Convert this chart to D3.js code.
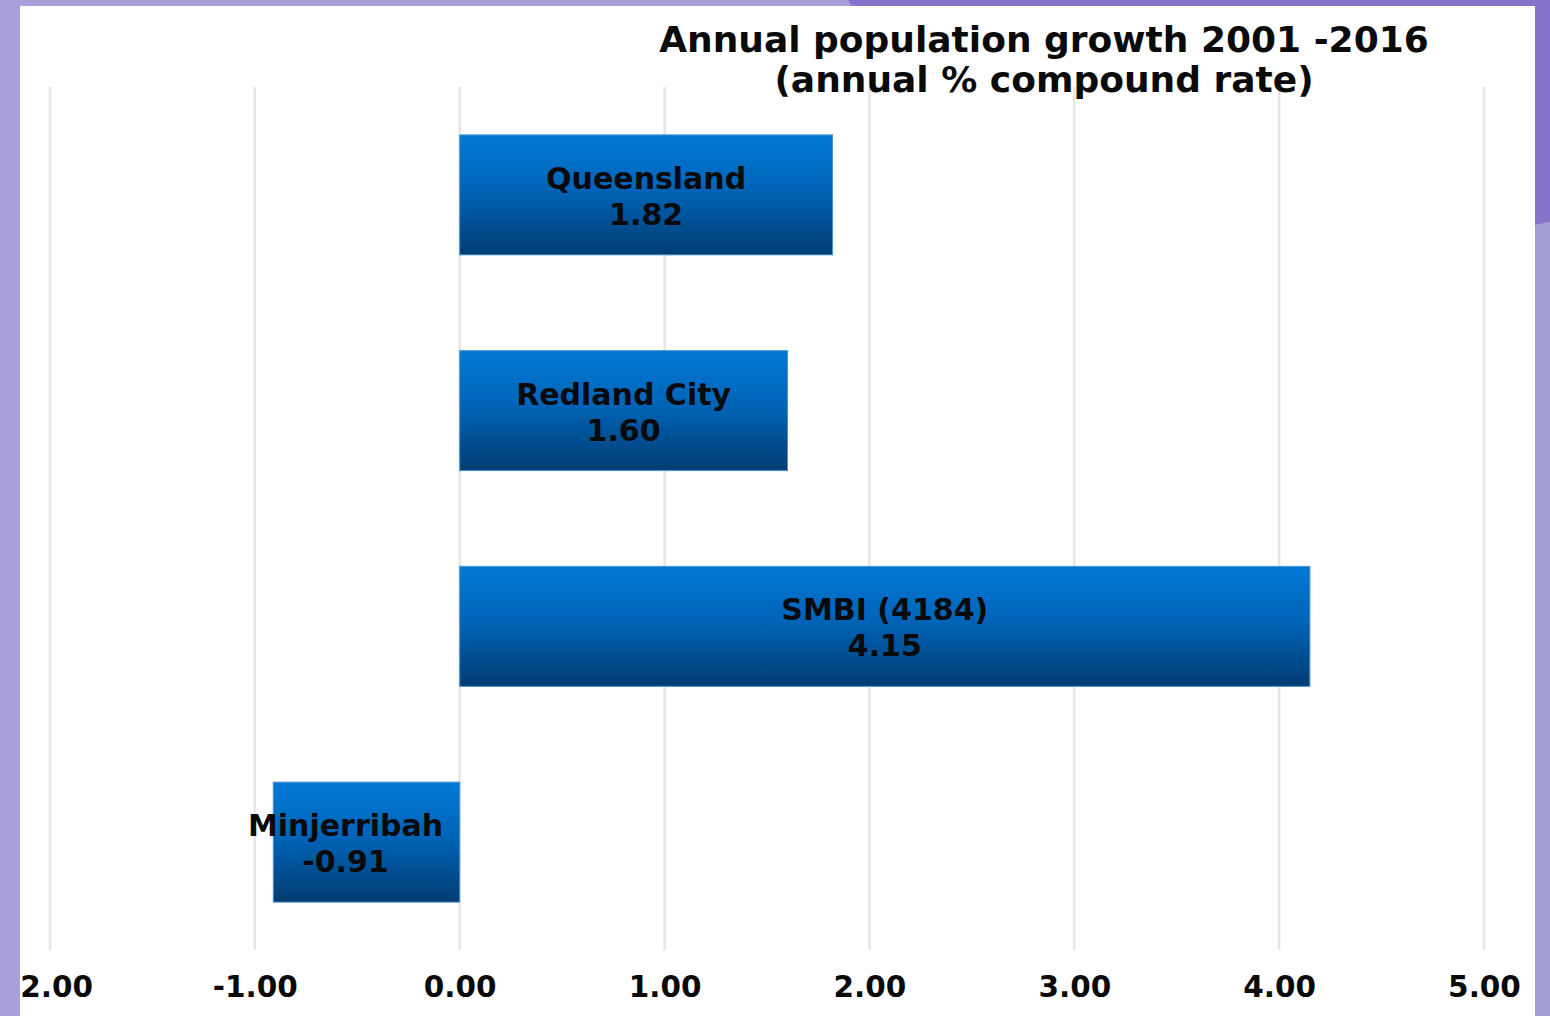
<!DOCTYPE html>
<html>
<head>
<meta charset="utf-8">
<script src="https://cdn.jsdelivr.net/npm/d3@7"></script>
<style>
  html, body { margin: 0; padding: 0; background: #a99fd8; }
  svg { display: block; }
</style>
</head>
<body>
<svg id="chart" width="1550" height="1016"></svg>
<script>
// Annual population growth, 2001-2016 (annual % compound rate)
const regions = ["Queensland", "Redland City", "SMBI (4184)", "Minjerribah"];
const growthRates = [1.82, 1.60, 4.15, -0.91];
const xTicks = [-2, -1, 0, 1, 2, 3, 4, 5];
const titleLines = ["Annual population growth 2001 -2016", "(annual % compound rate)"];

const W = 1550, H = 1016;
const panel = { left: 20, top: 6, right: 1535, bottom: 1016 };
const plot = { left: 50, right: 1484, top: 87, bottom: 950 };

const svg = d3.select("#chart");
const defs = svg.append("defs");

// Bar fill: bright blue fading to navy at the bottom
const grad = defs.append("linearGradient")
  .attr("id", "barFill").attr("x1", 0).attr("y1", 0).attr("x2", 0).attr("y2", 1);
grad.append("stop").attr("offset", "0%").attr("stop-color", "#0279d6");
grad.append("stop").attr("offset", "45%").attr("stop-color", "#0064b8");
grad.append("stop").attr("offset", "100%").attr("stop-color", "#013c72");

defs.append("clipPath").attr("id", "panelClip")
  .append("rect")
  .attr("x", panel.left).attr("y", panel.top)
  .attr("width", panel.right - panel.left).attr("height", panel.bottom - panel.top);

// Surrounding slide background
svg.append("rect").attr("width", W).attr("height", H).attr("fill", "#aa9fd9");
svg.append("polygon")
  .attr("points", `848,0 ${W},0 ${W},222 ${panel.right},225 ${panel.right},${panel.top} 852,${panel.top}`)
  .attr("fill", "#8473c9");
svg.append("polygon")
  .attr("points", `${panel.right},225 ${W},222 ${W},${H} ${panel.right},${H}`)
  .attr("fill", "#a29fd5");

// White chart panel
svg.append("rect")
  .attr("x", panel.left).attr("y", panel.top)
  .attr("width", panel.right - panel.left).attr("height", panel.bottom - panel.top)
  .attr("fill", "#ffffff");

const g = svg.append("g").attr("clip-path", "url(#panelClip)");

const x = d3.scaleLinear().domain([-2, 5]).range([plot.left, plot.right]);
const y = d3.scaleBand().domain(regions).range([plot.top, plot.bottom])
  .paddingInner(0.444).paddingOuter(0.222);

// Vertical gridlines
g.append("g").selectAll("line")
  .data(xTicks)
  .join("line")
  .attr("x1", d => x(d)).attr("x2", d => x(d))
  .attr("y1", plot.top).attr("y2", plot.bottom)
  .attr("stroke", "#e6e6e6").attr("stroke-width", 2.5);

// Bars
const data = regions.map((r, i) => ({ region: r, value: growthRates[i] }));
g.append("g").selectAll("rect")
  .data(data)
  .join("rect")
  .attr("x", d => x(Math.min(0, d.value)))
  .attr("y", d => y(d.region))
  .attr("width", d => Math.abs(x(d.value) - x(0)))
  .attr("height", y.bandwidth())
  .attr("fill", "url(#barFill)")
  .attr("stroke", "#4a90d0").attr("stroke-width", 1);

// In-bar labels: region name and value
const labels = g.append("g")
  .attr("font-family", "'DejaVu Sans', sans-serif")
  .attr("font-weight", "bold").attr("font-size", 30)
  .attr("fill", "#0a0a0a").attr("text-anchor", "middle");
const lbl = labels.selectAll("g")
  .data(data)
  .join("g")
  .attr("transform", d => {
    const cx = (x(d.value) + x(0)) / 2 + (d.value < 0 ? -21 : 0);
    return `translate(${cx},${y(d.region) + y.bandwidth() / 2})`;
  });
lbl.append("text").attr("y", -6).text(d => d.region);
lbl.append("text").attr("y", 30).text(d => d.value.toFixed(2));

// X axis tick labels (plain hyphen for negatives)
const fmt = d3.format(".2f");
const axis = g.append("g")
  .attr("transform", `translate(0,${plot.bottom})`)
  .call(d3.axisBottom(x).tickValues(xTicks)
    .tickFormat(d => fmt(d).replace("\u2212", "-"))
    .tickSize(0));
axis.select(".domain").remove();
axis.selectAll("text")
  .attr("font-family", "'DejaVu Sans', sans-serif")
  .attr("font-weight", "bold").attr("font-size", 29.5)
  .attr("fill", "#0a0a0a").attr("dy", "0.32em").attr("y", 38);

// Title
const title = g.append("text")
  .attr("x", 1044).attr("y", 52)
  .attr("font-family", "'DejaVu Sans', sans-serif")
  .attr("font-weight", "bold").attr("font-size", 36)
  .attr("fill", "#0a0a0a").attr("text-anchor", "middle");
title.selectAll("tspan")
  .data(titleLines)
  .join("tspan")
  .attr("x", 1044).attr("dy", (d, i) => i === 0 ? 0 : 40)
  .text(d => d);
</script>
</body>
</html>
